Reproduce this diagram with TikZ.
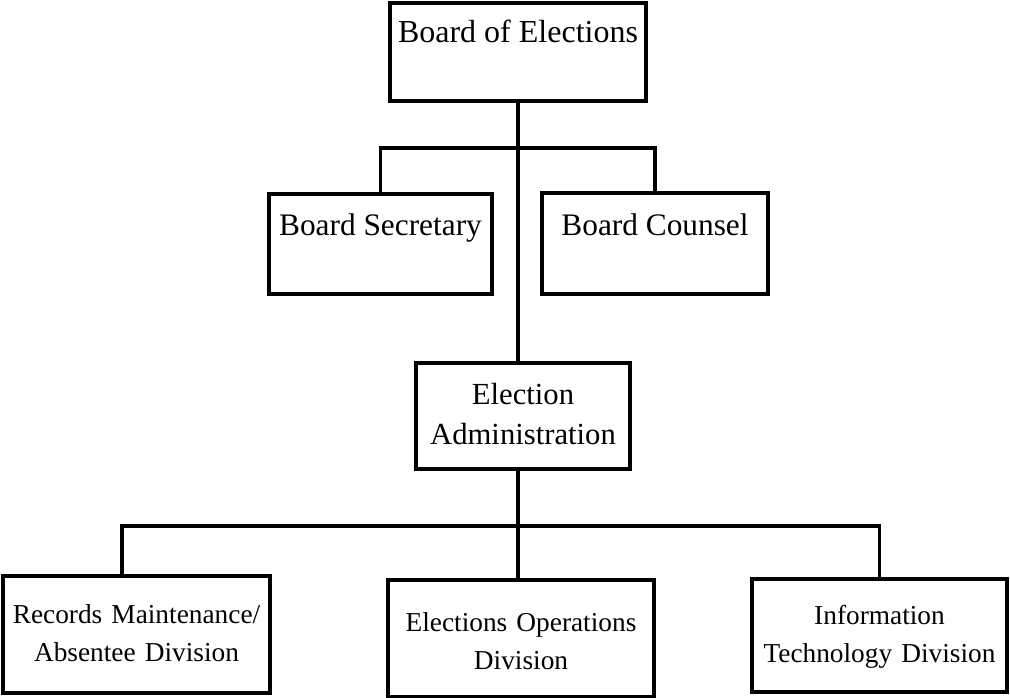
\documentclass[tikz,border=0pt]{standalone}
\usepackage{fontspec}
\setmainfont{Liberation Serif}
\usetikzlibrary{calc}

\tikzset{
  unitbox/.style={draw, line width=3pt, inner sep=0pt, outer sep=0pt},
  unittext/.style={inner sep=0pt, anchor=base, align=center},
  link/.style={line width=2.5pt, line cap=rect}
}

\begin{document}
\begin{tikzpicture}[x=0.75pt,y=0.75pt,yscale=-1,xscale=1]
  \useasboundingbox (0,0) rectangle (1010,698);

  % Boxes
  \node [unitbox, minimum width=192pt, minimum height=73.5pt] (boe) at (518,52) {};
  \node [unitbox, minimum width=167.25pt, minimum height=75pt] (sec) at (380.5,244) {};
  \node [unitbox, minimum width=169.5pt, minimum height=75.75pt] (cns) at (655,243.5) {};
  \node [unitbox, minimum width=160.5pt, minimum height=79.5pt] (adm) at (523,416) {};
  \node [unitbox, minimum width=200.25pt, minimum height=87.75pt] (rec) at (136.5,634.5) {};
  \node [unitbox, minimum width=199.5pt, minimum height=87.75pt] (ops) at (521,638.5) {};
  \node [unitbox, minimum width=191.25pt, minimum height=84.75pt] (itd) at (879.5,635.5) {};

  % Text Nodes
  \node [unittext, font=\fontsize{24}{29}\selectfont] (boe-t) at ($(boe.north)+(0,40)$) {Board of Elections};
  \node [unittext, font=\fontsize{23.5}{29}\selectfont] (sec-t) at ($(sec.north)+(0,42)$) {Board Secretary};
  \node [unittext, font=\fontsize{23.5}{29}\selectfont] (cns-t) at ($(cns.north)+(0,43)$) {Board Counsel};
  \node [unittext, text width=155pt, font=\fontsize{23}{30}\selectfont] (adm-t) at ($(adm.north)+(0,42)$) {Election\\Administration};
  \node [unittext, text width=196pt, font=\fontsize{20.5}{28.5}\selectfont] (rec-t) at ($(rec.north)+(0,47)$) {Records Maintenance/\\Absentee Division};
  \node [unittext, text width=196pt, font=\fontsize{20.5}{28.5}\selectfont] (ops-t) at ($(ops.north)+(0,51)$) {Elections Operations\\Division};
  \node [unittext, text width=188pt, font=\fontsize{20.5}{28.5}\selectfont] (itd-t) at ($(itd.north)+(0,45)$) {Information\\Technology Division};

  % Connectors
  \coordinate (bus1) at (518,148);
  \coordinate (bus2) at (518,526);
  \coordinate (recdrop) at (122,526);
  \draw [link] (boe.south) -- (boe.south |- adm.north);
  \draw [link] (sec.north) |- (bus1) -| (cns.north);
  \draw [link] (bus2 |- adm.south) -- (bus2 |- ops.north);
  \draw [link] (recdrop |- rec.north) |- (bus2) -| (itd.north);
\end{tikzpicture}
\end{document}
